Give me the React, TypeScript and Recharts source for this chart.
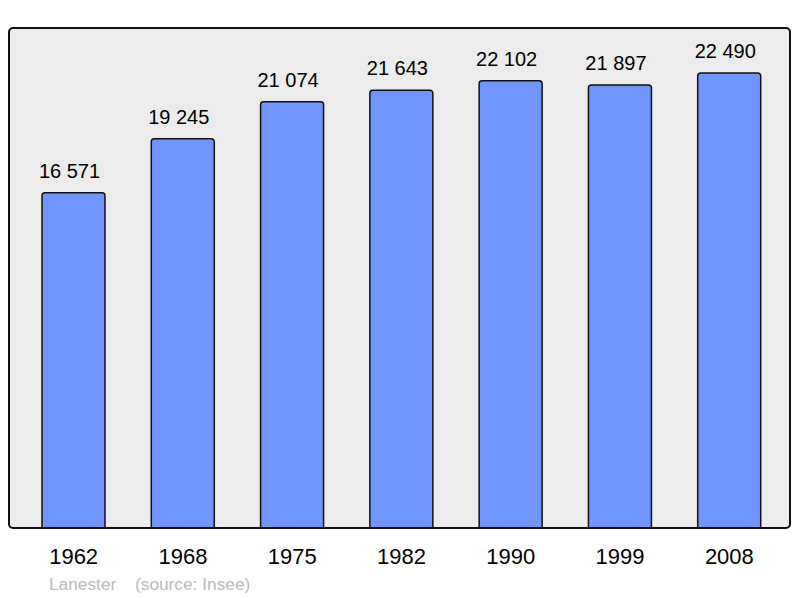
import React from "react";
import { BarChart, Bar, XAxis, YAxis, CartesianGrid, LabelList } from "recharts";

const years = ["1962", "1968", "1975", "1982", "1990", "1999", "2008"];
const population = [16571, 19245, 21074, 21643, 22102, 21897, 22490];
const footerPlace = "Lanester";
const footerSource = "(source: Insee)";

const data = years.map((y, i) => ({ year: y, pop: population[i] }));

const fmt = (v: any) => String(v).replace(/\B(?=(\d{3})+(?!\d))/g, " ");

const FONT = "'Liberation Sans', Arial, sans-serif";

const Tick = (props: any) => {
  const { x, y, payload } = props;
  return (
    <text x={x} y={y + 36} textAnchor="middle" fontSize={22} fontFamily={FONT} fill="#000">
      {payload.value}
    </text>
  );
};

const TopLabel = (props: any) => {
  const { x, y, width, value } = props;
  return (
    <text
      x={x + width / 2 - 4}
      y={y - 15}
      textAnchor="middle"
      fontSize={20}
      fontFamily={FONT}
      fill="#000"
    >
      {fmt(value)}
    </text>
  );
};

export default function App() {
  return (
    <div style={{ position: "absolute", left: 0, top: 0, width: 800, height: 598, background: "#fff" }}>
      <BarChart
        width={800}
        height={598}
        data={data}
        margin={{ top: 28, right: 10, left: 9, bottom: 30 }}
        barSize={63}
      >
        <CartesianGrid horizontal={false} vertical={false} fill="#ececec" />
        <YAxis hide domain={[0, 24714]} />
        <XAxis
          dataKey="year"
          axisLine={false}
          tickLine={false}
          tickSize={0}
          tickMargin={0}
          height={40}
          padding={{ left: 10, right: 6 }}
          tick={<Tick />}
          interval={0}
        />
        <Bar
          dataKey="pop"
          fill="#7095ff"
          stroke="#111"
          strokeWidth={1.5}
          radius={[3, 3, 0, 0]}
          isAnimationActive={false}
        >
          <LabelList dataKey="pop" content={<TopLabel />} />
        </Bar>
      </BarChart>
      <div
        style={{
          position: "absolute",
          left: 8,
          top: 27,
          width: 783,
          height: 502,
          boxSizing: "border-box",
          border: "2px solid #111",
          borderRadius: 5,
          pointerEvents: "none",
        }}
      />
      <div
        style={{
          position: "absolute",
          left: 49,
          top: 574,
          fontFamily: FONT,
          fontSize: 17.3,
          color: "#bbb",
          whiteSpace: "pre",
          lineHeight: "20px",
        }}
      >
        <span>{footerPlace}</span>
        <span style={{ position: "absolute", left: 86 }}>{footerSource}</span>
      </div>
    </div>
  );
}
